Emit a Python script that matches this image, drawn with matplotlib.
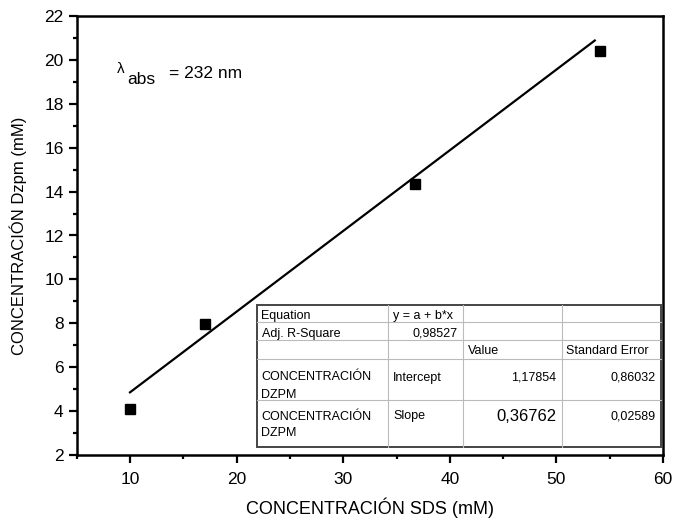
import numpy as np
import matplotlib
matplotlib.use("Agg")
import matplotlib.pyplot as plt
from matplotlib.ticker import MultipleLocator

plt.rcParams['font.family'] = ['Liberation Sans', 'DejaVu Sans']

# ---- data ----
sds = [10.0, 17.05, 36.7, 54.1]
dzpm = [4.1, 7.97, 14.35, 20.4]
intercept = 1.17854
slope = 0.36762

table_rows = [
    ["Equation", "y = a + b*x", "", ""],
    ["Adj. R-Square", "0,98527", "", ""],
    ["", "", "Value", "Standard Error"],
    ["CONCENTRACIÓN\nDZPM", "Intercept", "1,17854", "0,86032"],
    ["CONCENTRACIÓN\nDZPM", "Slope", "0,36762", "0,02589"],
]

# ---- figure ----
W, H = 677, 519
fig = plt.figure(figsize=(W / 100, H / 100), dpi=100)
ax_l, ax_r, ax_t, ax_b = 76.7, 663, 16, 455
ax = fig.add_axes([ax_l / W, 1 - ax_b / H, (ax_r - ax_l) / W, (ax_b - ax_t) / H])

ax.plot(sds, dzpm, 's', color='black', markersize=7.8, zorder=3)
xfit = np.array([sds[0], sds[-1] - 0.5])
ax.plot(xfit, intercept + slope * xfit, color='black', linewidth=1.6)

ax.set_xlim(5, 60)
ax.set_ylim(2, 22)
ax.xaxis.set_major_locator(MultipleLocator(10))
ax.xaxis.set_minor_locator(MultipleLocator(5))
ax.yaxis.set_major_locator(MultipleLocator(2))
ax.yaxis.set_minor_locator(MultipleLocator(1))
ax.tick_params(which='both', direction='out', width=1.6, labelsize=12.5, top=False, right=False)
ax.tick_params(which='major', length=6)
ax.tick_params(which='minor', length=3)
ax.tick_params(axis='x', which='major', pad=6)
ax.tick_params(axis='y', which='major', pad=3.5)
for s in ax.spines.values():
    s.set_linewidth(1.8)

ax.set_xlabel('CONCENTRACIÓN SDS (mM)', fontsize=13, labelpad=8)
ax.set_ylabel('CONCENTRACIÓN Dzpm (mM)', fontsize=12, labelpad=12)


def px(x, y):
    return (x / W, 1 - y / H)


# lambda_abs label, built from pieces
fig.text(*px(117, 73), 'λ', fontsize=11, ha='left', va='baseline')
fig.text(*px(127, 84), 'abs', fontsize=12.5, ha='left', va='baseline')
fig.text(*px(169, 78), '= 232 nm', fontsize=12.5, ha='left', va='baseline')

# ---- results table (pixel layout) ----
cols = [256.5, 388, 462.7, 561.5, 661]
rows = [305, 322, 340, 359, 400, 447]
text_y = [314, 332, 350, 376, 415]

bx, by = px(cols[0], rows[-1])
bx2, by2 = px(cols[-1], rows[0])
fig.patches.append(plt.Rectangle((bx, by), bx2 - bx, by2 - by, transform=fig.transFigure,
                                 facecolor='white', edgecolor='#444444', linewidth=1.4, zorder=5))
for c in cols[1:-1]:
    x0, y0 = px(c, rows[0])
    x1, y1 = px(c, rows[-1])
    fig.add_artist(plt.Line2D([x0, x1], [y0, y1], transform=fig.transFigure,
                              color='#bbbbbb', linewidth=0.8, zorder=6))
for r in rows[1:-1]:
    x0, y0 = px(cols[0], r)
    x1, y1 = px(cols[-1], r)
    fig.add_artist(plt.Line2D([x0, x1], [y0, y1], transform=fig.transFigure,
                              color='#bbbbbb', linewidth=0.8, zorder=6))

right_cells = {(1, 1), (3, 2), (3, 3), (4, 2), (4, 3)}
for i, row in enumerate(table_rows):
    for j, txt in enumerate(row):
        if not txt:
            continue
        size = 12 if (i, j) == (4, 2) else 9
        lines = txt.split('\n')
        for k, line in enumerate(lines):
            if (i, j) in right_cells:
                x, y = px(cols[j + 1] - 5, text_y[i] + 17 * k)
                ha = 'right'
            else:
                x, y = px(cols[j] + 5, text_y[i] + 17 * k)
                ha = 'left'
            fig.text(x, y, line, ha=ha, va='center_baseline', fontsize=size, zorder=7)

fig.savefig('out.png', dpi=100)
